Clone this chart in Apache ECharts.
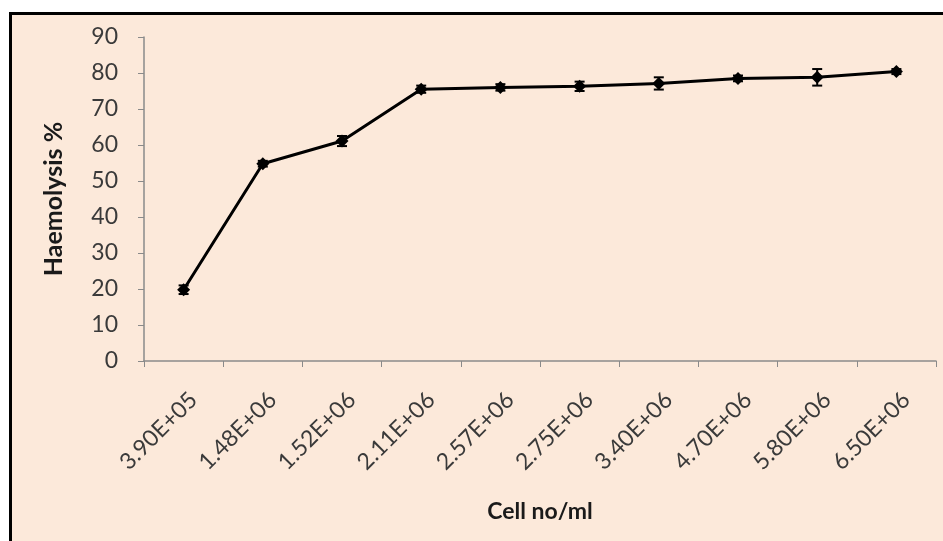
<!DOCTYPE html>
<html>
<head>
<meta charset="utf-8">
<script src="https://cdn.jsdelivr.net/npm/echarts@6/dist/echarts.min.js"></script>
<style>
  html, body { margin: 0; padding: 0; background: #ffffff; }
  #chart { width: 943px; height: 541px; }
</style>
</head>
<body>
<div id="chart"></div>
<script>
// Cell concentration categories (cells per ml)
const cellCounts = ['3.90E+05', '1.48E+06', '1.52E+06', '2.11E+06', '2.57E+06',
                    '2.75E+06', '3.40E+06', '4.70E+06', '5.80E+06', '6.50E+06'];
// Mean haemolysis (%) at each concentration
const haemolysis = [19.8, 54.8, 61.1, 75.5, 76.0, 76.3, 77.1, 78.5, 78.8, 80.4];
// Error (± value) for each mean
const errors = [1.2, 0.8, 1.4, 1.0, 0.9, 1.3, 1.7, 0.8, 2.3, 0.7];
// Y axis ticks
const yTicks = { min: 0, max: 90, step: 10 };

const errorData = haemolysis.map((v, i) => [i, v - errors[i], v + errors[i]]);

const chart = echarts.init(document.getElementById('chart'));
const font = 'Lato, "Open Sans", sans-serif';

chart.setOption({
  backgroundColor: '#ffffff',
  animation: false,
  graphic: [{
    type: 'rect',
    z: -10,
    silent: true,
    shape: { x: 10.5, y: 13.5, width: 1000, height: 600 },
    style: { fill: '#fce9da', stroke: '#000000', lineWidth: 3 }
  }],
  grid: { left: 144, right: 7, top: 37, bottom: 180, containLabel: false },
  xAxis: {
    type: 'category',
    data: cellCounts,
    boundaryGap: true,
    name: 'Cell no/ml',
    nameLocation: 'middle',
    nameGap: 139,
    nameTextStyle: { fontFamily: font, fontSize: 23, fontWeight: 'bold', color: '#1a1a1a' },
    axisLine: { lineStyle: { color: '#8a8a8a', width: 1.5 } },
    axisTick: { show: true, length: 6, lineStyle: { color: '#8a8a8a' } },
    axisLabel: {
      rotate: 45, fontFamily: font, fontSize: 23, color: '#3a3a3a',
      margin: 45, padding: [0, -14, 0, 0], interval: 0
    }
  },
  yAxis: {
    type: 'value',
    min: yTicks.min,
    max: yTicks.max,
    interval: yTicks.step,
    name: 'Haemolysis %',
    nameLocation: 'middle',
    nameGap: 78,
    nameRotate: 90,
    nameTextStyle: { fontFamily: font, fontSize: 25, fontWeight: 'bold', color: '#1a1a1a' },
    splitLine: { show: false },
    axisLine: { show: true, lineStyle: { color: '#8a8a8a', width: 1.5 } },
    axisTick: { show: true, length: 6, lineStyle: { color: '#8a8a8a' } },
    axisLabel: { fontFamily: font, fontSize: 23, color: '#3a3a3a', margin: 26 }
  },
  series: [
    {
      type: 'line',
      data: haemolysis,
      symbol: 'diamond',
      symbolSize: 13,
      lineStyle: { color: '#000000', width: 3 },
      itemStyle: { color: '#000000' },
      z: 3
    },
    {
      type: 'custom',
      data: errorData,
      z: 4,
      renderItem: function (params, api) {
        const x = api.coord([api.value(0), api.value(1)])[0];
        const lo = api.coord([api.value(0), api.value(1)])[1];
        const hi = api.coord([api.value(0), api.value(2)])[1];
        const cap = 5;
        const style = { stroke: '#000000', lineWidth: 2 };
        return {
          type: 'group',
          children: [
            { type: 'line', shape: { x1: x, y1: lo, x2: x, y2: hi }, style: style },
            { type: 'line', shape: { x1: x - cap, y1: lo, x2: x + cap, y2: lo }, style: style },
            { type: 'line', shape: { x1: x - cap, y1: hi, x2: x + cap, y2: hi }, style: style }
          ]
        };
      }
    }
  ]
});
</script>
</body>
</html>
